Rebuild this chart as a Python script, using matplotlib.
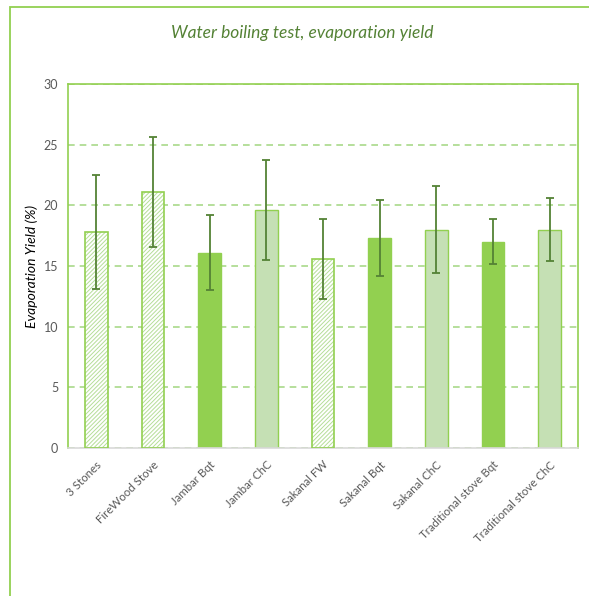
import matplotlib
matplotlib.use("Agg")
import matplotlib.pyplot as plt
import matplotlib.patches as mpatches
import numpy as np

categories = ["3 Stones", "FireWood Stove", "Jambar Bqt", "Jambar ChC", "Sakanal FW",
              "Sakanal Bqt", "Sakanal ChC", "Traditional stove Bqt", "Traditional stove ChC"]
values = [17.8, 21.1, 16.1, 19.6, 15.6, 17.3, 18.0, 17.0, 18.0]
errors = [4.7, 4.55, 3.1, 4.1, 3.3, 3.15, 3.6, 1.85, 2.6]
styles = ["hatch", "hatch", "solid", "light", "hatch", "solid", "light", "solid", "light"]
yticks = [0, 5, 10, 15, 20, 25, 30]

plt.rcParams['font.family'] = ['Lato', 'DejaVu Sans']
plt.rcParams['hatch.linewidth'] = 0.7
plt.rcParams['hatch.color'] = '#B5DE98'

W, H = 589, 596
fig = plt.figure(figsize=(W/100, H/100), dpi=100)

# outer chart frame
frame = mpatches.Rectangle((10/W, -0.05), 1.1, (H-7)/H + 0.05, transform=fig.transFigure,
                           fill=False, edgecolor='#92D050', linewidth=1.3, clip_on=False)
fig.patches.append(frame)

ax = fig.add_axes([68/W, (H-448)/H, (578-68)/W, (448-84)/H])
x = np.arange(len(categories))
for xi, v, s in zip(x, values, styles):
    if s == "hatch":
        ax.bar(xi, v, width=0.4, color='white', edgecolor='#B5DE98', hatch='////////',
               linewidth=0, zorder=2)
        ax.bar(xi, v, width=0.4, fill=False, edgecolor='#92D050', linewidth=1.2, zorder=3)
    elif s == "solid":
        ax.bar(xi, v, width=0.4, color='#92D050', edgecolor='#92D050', linewidth=1.0, zorder=2)
    else:
        ax.bar(xi, v, width=0.4, color='#C5E0B4', edgecolor='#92D050', linewidth=1.0, zorder=2)
ax.errorbar(x, values, yerr=errors, fmt='none', ecolor='#548235', elinewidth=1.3,
            capsize=2.6, capthick=1.3, zorder=4)

ax.set_ylim(0, 30)
ax.set_xlim(-0.5, len(categories) - 0.5)
ax.set_yticks(yticks)
ax.set_yticklabels([str(t) for t in yticks], fontsize=9, color='#595959')
ax.set_xticks(x)
ax.set_xticklabels(categories, rotation=45, ha='right', rotation_mode='anchor',
                   fontsize=8.3, color='#595959')
ax.tick_params(axis='y', length=0, pad=7)
ax.tick_params(axis='x', length=0, pad=8)
ax.yaxis.grid(True, linestyle=(0, (4, 3)), color='#A9D98A', linewidth=1.2, zorder=0)
ax.set_axisbelow(True)
for side in ['top', 'left', 'right']:
    ax.spines[side].set_color('#92D050')
    ax.spines[side].set_linewidth(1.2)
ax.spines['bottom'].set_color('#D9D9D9')
ax.spines['bottom'].set_linewidth(1.2)

ax.set_ylabel("Evaporation Yield (%)", fontsize=10, style='italic', color='black', labelpad=4)
fig.text(302/W, (H-33)/H, "Water boiling test, evaporation yield", ha='center', va='center',
         fontsize=12.5, style='italic', color='#548235')

fig.savefig("out.png", dpi=100)
